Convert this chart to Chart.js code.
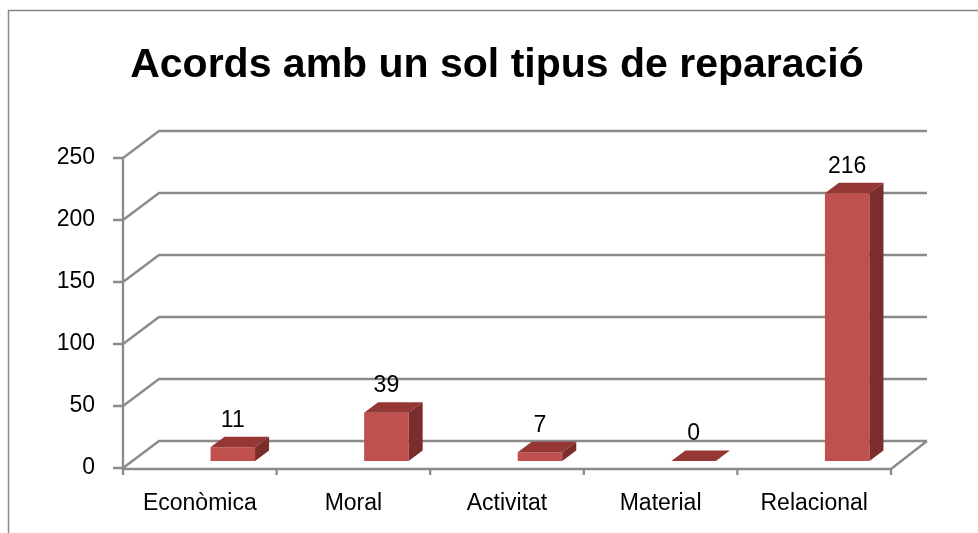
<!DOCTYPE html>
<html>
<head>
<meta charset="utf-8">
<script src="https://cdn.jsdelivr.net/npm/chart.js@4"></script>
<style>
  body { margin: 0; background: #fff; }
  canvas { display: block; }
</style>
</head>
<body>
<canvas id="chart" width="978" height="533"></canvas>
<script>
// Dades del gràfic
const titleText = 'Acords amb un sol tipus de reparació';
const categories = ['Econòmica', 'Moral', 'Activitat', 'Material', 'Relacional'];
const values = [11, 39, 7, 0, 216];
const yTicks = [0, 50, 100, 150, 200, 250];

const FONT = "'Liberation Sans', Arial, sans-serif";
const GRID = '#8a8a8a';

// profunditat de la paret i de les barres (efecte 3D)
const WALL = { dx: 36, dy: -27 };
const BAR_SHIFT = { dx: 33, dy: -7 };
const BAR_DEPTH = { dx: 14, dy: -10.5 };

// Marc, títol i graella 3D
const backdrop = {
    id: 'backdrop',
    beforeDraw(chart) {
        const ctx = chart.ctx;
        ctx.save();
        ctx.fillStyle = '#fff';
        ctx.fillRect(0, 0, chart.width, chart.height);
        ctx.strokeStyle = '#888';
        ctx.lineWidth = 1.5;
        ctx.strokeRect(8.5, 10.5, 2000, 2000);
        ctx.fillStyle = '#000';
        ctx.font = `bold 41px ${FONT}`;
        ctx.textAlign = 'center';
        ctx.textBaseline = 'alphabetic';
        ctx.fillText(titleText, 497, 77);
        ctx.restore();
    },
    beforeDatasetsDraw(chart) {
        const ctx = chart.ctx;
        const { left, right } = chart.chartArea;
        const y = chart.scales.y;
        const y0 = y.getPixelForValue(0);
        ctx.save();
        ctx.strokeStyle = GRID;
        ctx.lineWidth = 2.3;
        ctx.beginPath();
        yTicks.forEach(v => {
            const py = y.getPixelForValue(v);
            ctx.moveTo(left, py);
            ctx.lineTo(left + WALL.dx, py + WALL.dy);
            ctx.lineTo(right + WALL.dx, py + WALL.dy);
            // marques de l'eix vertical
            ctx.moveTo(left - 10, py);
            ctx.lineTo(left, py);
        });
        // terra
        ctx.moveTo(left, y0 + 1);
        ctx.lineTo(right, y0 + 1);
        ctx.lineTo(right + WALL.dx, y0 + WALL.dy);
        // eix vertical
        ctx.moveTo(left, y.getPixelForValue(yTicks[yTicks.length - 1]));
        ctx.lineTo(left, y0 + 1);
        // marques de categoria
        const step = (right - left) / categories.length;
        for (let i = 0; i <= categories.length; i++) {
            const px = left + i * step;
            ctx.moveTo(px, y0);
            ctx.lineTo(px, y0 + 7);
        }
        ctx.stroke();
        ctx.restore();

        // les barres es dibuixen desplaçades cap al fons
        ctx.save();
        ctx.translate(BAR_SHIFT.dx, BAR_SHIFT.dy);
    },
    afterDatasetsDraw(chart) {
        const ctx = chart.ctx;
        const meta = chart.getDatasetMeta(0);
        meta.data.forEach((bar, i) => {
            const { x, y, base, width } = bar.getProps(['x', 'y', 'base', 'width'], true);
            const l = x - width / 2, r = x + width / 2;
            const top = Math.min(y, base), bottom = base;
            // cara superior
            ctx.fillStyle = '#953735';
            ctx.beginPath();
            ctx.moveTo(l, top);
            ctx.lineTo(l + BAR_DEPTH.dx, top + BAR_DEPTH.dy);
            ctx.lineTo(r + BAR_DEPTH.dx, top + BAR_DEPTH.dy);
            ctx.lineTo(r, top);
            ctx.closePath();
            ctx.fill();
            // cara lateral
            ctx.fillStyle = '#7b2d2b';
            ctx.beginPath();
            ctx.moveTo(r, top);
            ctx.lineTo(r + BAR_DEPTH.dx, top + BAR_DEPTH.dy);
            ctx.lineTo(r + BAR_DEPTH.dx, bottom + BAR_DEPTH.dy);
            ctx.lineTo(r, bottom);
            ctx.closePath();
            ctx.fill();
            // etiqueta de valor
            ctx.fillStyle = '#000';
            ctx.font = `23px ${FONT}`;
            ctx.textAlign = 'center';
            ctx.textBaseline = 'middle';
            ctx.fillText(String(values[i]), x, top - 27);
        });
        ctx.restore();
    }
};

new Chart(document.getElementById('chart'), {
    type: 'bar',
    data: {
        labels: categories,
        datasets: [{
            data: values,
            backgroundColor: '#c0504d',
            borderWidth: 0,
            barPercentage: 0.29,
            categoryPercentage: 1.0
        }]
    },
    options: {
        responsive: false,
        animation: false,
        devicePixelRatio: 1,
        layout: { padding: { top: 158, right: 87, left: 0, bottom: 0 } },
        plugins: {
            legend: { display: false },
            title: { display: false },
            tooltip: { enabled: false }
        },
        scales: {
            x: {
                grid: { display: false, drawTicks: false },
                border: { display: false },
                ticks: { color: '#000', font: { family: FONT, size: 23 }, padding: 22, maxRotation: 0 },
                afterFit: s => { s.height = 65; }
            },
            y: {
                min: yTicks[0],
                max: yTicks[yTicks.length - 1],
                grid: { display: false, drawTicks: false },
                border: { display: false },
                ticks: { stepSize: 50, color: '#000', font: { family: FONT, size: 23 }, padding: 28 },
                afterFit: s => { s.width = 123; }
            }
        }
    },
    plugins: [backdrop]
});
</script>
</body>
</html>
